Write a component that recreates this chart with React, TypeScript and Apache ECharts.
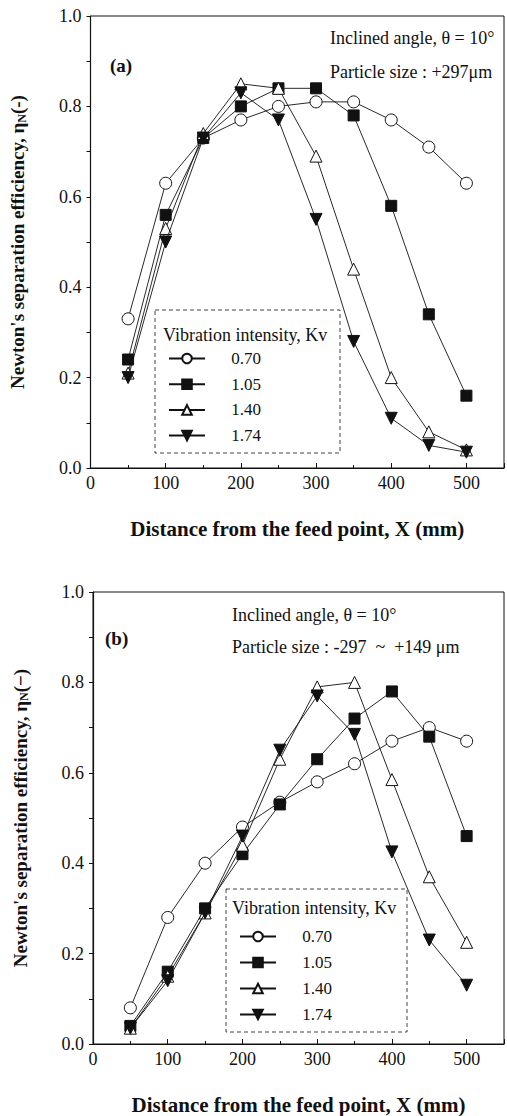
import React, { useEffect, useRef } from "react";
import * as echarts from "echarts";

const xValues = [50, 100, 150, 200, 250, 300, 350, 400, 450, 500];
const seriesNames = ["0.70", "1.05", "1.40", "1.74"];
const xTickLabels = ["0", "100", "200", "300", "400", "500"];

// Panel (a): particle size +297 μm
const a070 = [0.33, 0.63, 0.73, 0.77, 0.8, 0.81, 0.81, 0.77, 0.71, 0.63];
const a105 = [0.24, 0.56, 0.73, 0.8, 0.84, 0.84, 0.78, 0.58, 0.34, 0.16];
const a140 = [0.21, 0.53, 0.74, 0.85, 0.84, 0.69, 0.44, 0.2, 0.08, 0.04];
const a174 = [0.2, 0.5, 0.73, 0.83, 0.77, 0.55, 0.28, 0.11, 0.05, 0.035];

// Panel (b): particle size -297 ~ +149 μm
const b070 = [0.08, 0.28, 0.4, 0.48, 0.535, 0.58, 0.62, 0.67, 0.7, 0.67];
const b105 = [0.04, 0.16, 0.3, 0.42, 0.53, 0.63, 0.72, 0.78, 0.68, 0.46];
const b140 = [0.035, 0.15, 0.29, 0.44, 0.63, 0.79, 0.8, 0.585, 0.37, 0.225];
const b174 = [0.035, 0.14, 0.29, 0.46, 0.65, 0.77, 0.685, 0.425, 0.23, 0.13];

const INK = "#111";
const SERIF = "'Liberation Serif', 'DejaVu Serif', serif";

const markerStyles = [
  { symbol: "circle", symbolSize: 12, rotate: 0, fill: "#fff" },
  { symbol: "rect", symbolSize: 11, rotate: 0, fill: INK },
  { symbol: "triangle", symbolSize: 12, rotate: 0, fill: "#fff" },
  { symbol: "triangle", symbolSize: 12, rotate: 180, fill: INK },
];

function makeSeries(values: number[][], gridIdx: number) {
  return values.map((vals, i) => {
    const m = markerStyles[i];
    return {
      type: "line",
      name: seriesNames[i],
      xAxisIndex: gridIdx,
      yAxisIndex: gridIdx,
      data: xValues.map((x, j) => [x, vals[j]]),
      symbol: m.symbol,
      symbolSize: m.symbolSize,
      symbolRotate: m.rotate,
      showAllSymbol: true,
      lineStyle: { color: INK, width: 0.9 },
      itemStyle: { color: m.fill, borderColor: INK, borderWidth: 1 },
      z: 3 + i,
    };
  });
}

function xAxis(gridIndex: number) {
  return {
    type: "value",
    gridIndex,
    min: 0,
    max: 550,
    interval: 100,
    name: "Distance from the feed point, X (mm)",
    nameLocation: "middle",
    nameGap: 50,
    nameTextStyle: { fontFamily: SERIF, fontWeight: "bold", fontSize: 21, color: INK },
    axisLine: { show: true, lineStyle: { color: INK, width: 1.2 } },
    axisTick: { show: true, inside: true, length: 5, lineStyle: { color: INK } },
    minorTick: { show: true, splitNumber: 2, length: 3, lineStyle: { color: INK } },
    splitLine: { show: false },
    axisLabel: {
      margin: 6,
      fontFamily: SERIF,
      fontSize: 18,
      color: INK,
      formatter: (v: number) => (xTickLabels.includes(String(v)) ? String(v) : ""),
    },
  };
}

function yAxis(gridIndex: number, dash: string) {
  return {
    type: "value",
    gridIndex,
    min: 0,
    max: 1,
    interval: 0.2,
    name: "Newton's separation efficiency, η{sub|N}(" + dash + ")",
    nameLocation: "middle",
    nameGap: 63,
    nameRotate: 90,
    nameTextStyle: {
      fontFamily: SERIF,
      fontWeight: "bold",
      fontSize: 19,
      color: INK,
      rich: {
        sub: { fontFamily: SERIF, fontSize: 12, color: INK, verticalAlign: "bottom", padding: [8, 0, 0, 0] },
      },
    },
    axisLine: { show: true, lineStyle: { color: INK, width: 1.2 } },
    axisTick: { show: true, inside: false, length: 4, lineStyle: { color: INK } },
    minorTick: { show: true, splitNumber: 2, length: 4, lineStyle: { color: INK } },
    splitLine: { show: false },
    axisLabel: {
      margin: 9,
      fontFamily: SERIF,
      fontSize: 18,
      color: INK,
      formatter: (v: number) => v.toFixed(1),
    },
  };
}

function legend(left: number, top: number, gap: number) {
  return {
    orient: "vertical",
    left,
    top,
    itemWidth: 36,
    itemHeight: 12,
    itemGap: gap,
    data: seriesNames,
    formatter: (name: string) => "     " + name,
    textStyle: { fontFamily: SERIF, fontSize: 17, color: INK },
    selectedMode: false,
  };
}

function annotations() {
  const t = (x: number, y: number, text: string, bold = false, size = 18) => ({
    type: "text",
    x,
    y,
    style: {
      text,
      fill: INK,
      font: `${bold ? "bold " : ""}${size}px ${SERIF}`,
      textVerticalAlign: "middle",
      verticalAlign: "middle",
    },
  });
  const box = (x: number, y: number, w: number, h: number) => ({
    type: "rect",
    shape: { x, y, width: w, height: h },
    style: { fill: "none", stroke: INK, lineWidth: 0.8, lineDash: [4, 3] },
    z: 1,
  });
  return [
    t(110, 65, "(a)", true, 19),
    t(330, 38, "Inclined angle, θ = 10°"),
    t(330, 72, "Particle size : +297μm"),
    box(155, 310, 185, 143),
    t(163, 335, "Vibration intensity, Kv"),
    t(105, 638, "(b)", true, 19),
    t(232, 615, "Inclined angle, θ = 10°"),
    t(232, 647, "Particle size : -297  ~  +149 μm"),
    box(226, 889, 181, 143),
    t(232, 908, "Vibration intensity, Kv"),
  ];
}

export default function App() {
  const ref = useRef<HTMLDivElement>(null);
  useEffect(() => {
    if (!ref.current) return;
    const chart = echarts.init(ref.current, undefined, { renderer: "svg" });
    chart.setOption({
      animation: false,
      backgroundColor: "#fff",
      grid: [
        { left: 88, top: 16, width: 416, height: 452, show: true, borderColor: INK, borderWidth: 1, backgroundColor: "transparent" },
        { left: 93, top: 592, width: 414, height: 453, show: true, borderColor: INK, borderWidth: 1, backgroundColor: "transparent" },
      ],
      xAxis: [xAxis(0), xAxis(1)],
      yAxis: [yAxis(0, "-"), yAxis(1, "−")],
      legend: [legend(163, 345, 8.7), legend(234, 923, 9)],
      series: [...makeSeries([a070, a105, a140, a174], 0), ...makeSeries([b070, b105, b140, b174], 1)],
      graphic: annotations(),
    });
    return () => chart.dispose();
  }, []);
  return (
    <div
      ref={ref}
      style={{ position: "absolute", left: 0, top: 0, width: 507, height: 1116, background: "#fff" }}
    />
  );
}
